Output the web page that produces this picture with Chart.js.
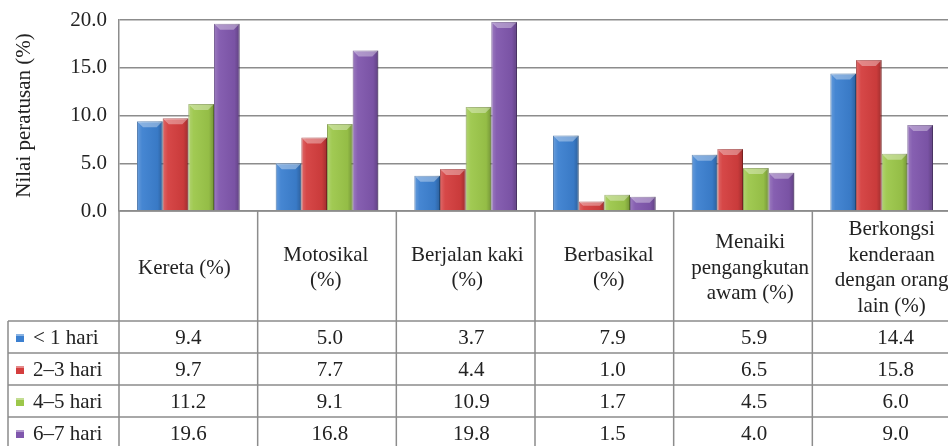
<!DOCTYPE html>
<html>
<head>
<meta charset="utf-8">
<script src="https://cdn.jsdelivr.net/npm/chart.js@4/dist/chart.umd.min.js"></script>
<style>
    html, body { margin: 0; padding: 0; background: #fff; overflow: hidden; }
    #wrap { width: 951px; height: 446px; position: relative; }
</style>
</head>
<body>
<div id="wrap"><canvas id="chart"></canvas></div>
<script>
// Kategori (baris tajuk jadual)
const categories = [
    ['Kereta (%)'],
    ['Motosikal', '(%)'],
    ['Berjalan kaki', '(%)'],
    ['Berbasikal', '(%)'],
    ['Menaiki', 'pengangkutan', 'awam (%)'],
    ['Berkongsi', 'kenderaan', 'dengan orang', 'lain (%)']
];
const seriesNames = ['< 1 hari', '2–3 hari', '4–5 hari', '6–7 hari'];
const kurang1 = [9.4, 5.0, 3.7, 7.9, 5.9, 14.4];
const hari23 = [9.7, 7.7, 4.4, 1.0, 6.5, 15.8];
const hari45 = [11.2, 9.1, 10.9, 1.7, 4.5, 6.0];
const hari67 = [19.6, 16.8, 19.8, 1.5, 4.0, 9.0];
const yTicks = [0, 5, 10, 15, 20];

const colors = ['#3c80d0', '#d43e3e', '#9cc74a', '#8057ad'];
const borders = ['#2b5f9c', '#9e2b2b', '#6f8f2e', '#5b3d7e'];
const FONT = "'Liberation Serif', 'Times New Roman', serif";
const lineColor = '#8c8c8c';

// Efek serong (bevel) pada setiap bar
const bevelPlugin = {
    id: 'bevel',
    afterDatasetsDraw(chart) {
        const ctx = chart.ctx;
        chart.data.datasets.forEach((ds, di) => {
            const meta = chart.getDatasetMeta(di);
            meta.data.forEach(bar => {
                const p = bar.getProps(['x', 'y', 'base', 'width'], true);
                const left = p.x - p.width / 2, right = p.x + p.width / 2;
                const h = p.base - p.y;
                ctx.save();
                const g = ctx.createLinearGradient(left, 0, right, 0);
                g.addColorStop(0, 'rgba(255,255,255,0.22)');
                g.addColorStop(0.2, 'rgba(255,255,255,0.05)');
                g.addColorStop(0.8, 'rgba(0,0,0,0.05)');
                g.addColorStop(1, 'rgba(0,0,0,0.25)');
                ctx.fillStyle = g;
                ctx.fillRect(left, p.y, p.width, h);
                const b = Math.min(6, h / 2);
                ctx.beginPath();
                ctx.moveTo(left, p.y);
                ctx.lineTo(right, p.y);
                ctx.lineTo(right - b, p.y + b);
                ctx.lineTo(left + b, p.y + b);
                ctx.closePath();
                ctx.fillStyle = 'rgba(255,255,255,0.35)';
                ctx.fill();
                ctx.restore();
            });
        });
    }
};

// Jadual data di bawah carta
const tablePlugin = {
    id: 'dataTable',
    afterDraw(chart) {
        const ctx = chart.ctx;
        const xs = chart.scales.x;
        const area = chart.chartArea;
        const n = chart.data.labels.length;
        const colW = (xs.right - xs.left) / n;
        const top = area.bottom;
        const headerBottom = top + 110;
        const rowH = 32;
        const legendLeft = 8;
        const bottom = headerBottom + rowH * 4;
        ctx.save();
        ctx.strokeStyle = lineColor;
        ctx.lineWidth = 1.5;
        ctx.beginPath();
        // garis tegak
        for (let i = 0; i <= n; i++) {
            const x = xs.left + i * colW;
            ctx.moveTo(x, top);
            ctx.lineTo(x, bottom);
        }
        ctx.moveTo(legendLeft, headerBottom);
        ctx.lineTo(legendLeft, bottom);
        // garis mendatar
        ctx.moveTo(xs.left, top);
        ctx.lineTo(xs.right, top);
        for (let r = 0; r <= 4; r++) {
            const y = headerBottom + r * rowH;
            ctx.moveTo(legendLeft, y);
            ctx.lineTo(xs.right, y);
        }
        ctx.stroke();

        // teks dalam jadual sedikit beranjak ke kanan (seperti Excel)
        const textX = i => xs.getPixelForTick(i) - 4 + 2.8 * i;

        ctx.fillStyle = '#222';
        ctx.font = '21px ' + FONT;
        ctx.textAlign = 'center';
        ctx.textBaseline = 'middle';
        const lh = 25.5;
        chart.data.labels.forEach((lines, i) => {
            const cy = (top + headerBottom) / 2 + 2;
            lines.forEach((t, k) => {
                ctx.fillText(t, textX(i), cy + (k - (lines.length - 1) / 2) * lh);
            });
        });
        chart.data.datasets.forEach((ds, r) => {
            const cy = headerBottom + r * rowH + rowH / 2 + 1;
            // penanda legenda
            ctx.fillStyle = colors[r];
            ctx.fillRect(16, cy - 4, 8, 8);
            ctx.fillStyle = 'rgba(255,255,255,0.4)';
            ctx.fillRect(16, cy - 4, 8, 2);
            ctx.fillStyle = '#222';
            ctx.textAlign = 'left';
            ctx.fillText(ds.label, 33, cy);
            ctx.textAlign = 'center';
            ds.data.forEach((v, i) => {
                ctx.fillText(v.toFixed(1), textX(i) + 4, cy);
            });
        });
        ctx.restore();
    }
};

const allData = [kurang1, hari23, hari45, hari67];

new Chart(document.getElementById('chart'), {
    type: 'bar',
    data: {
        labels: categories,
        datasets: allData.map((d, i) => ({
            label: seriesNames[i],
            data: d,
            backgroundColor: colors[i],
            borderColor: borders[i],
            borderWidth: 1,
            barPercentage: 1.0,
            categoryPercentage: 0.74
        }))
    },
    options: {
        responsive: true,
        maintainAspectRatio: false,
        animation: false,
        events: [],
        layout: { padding: { top: 20, bottom: 235, left: 0, right: 0 } },
        plugins: {
            legend: { display: false },
            tooltip: { enabled: false }
        },
        scales: {
            x: { display: false },
            y: {
                min: 0,
                max: 20,
                afterFit(scale) { scale.width = 119; },
                afterBuildTicks(scale) { scale.ticks = yTicks.map(v => ({ value: v })); },
                ticks: {
                    padding: 7,
                    color: '#222',
                    font: { family: FONT, size: 21 },
                    callback: v => v.toFixed(1)
                },
                grid: { color: lineColor, lineWidth: 1.5, drawTicks: true, tickLength: 5, tickColor: 'rgba(0,0,0,0)' },
                border: { color: lineColor, width: 1.5 },
                title: {
                    display: true,
                    text: 'Nilai peratusan (%)',
                    color: '#222',
                    font: { family: FONT, size: 21 },
                    padding: { top: 12, bottom: 0 }
                }
            }
        }
    },
    plugins: [bevelPlugin, tablePlugin]
});
</script>
</body>
</html>
